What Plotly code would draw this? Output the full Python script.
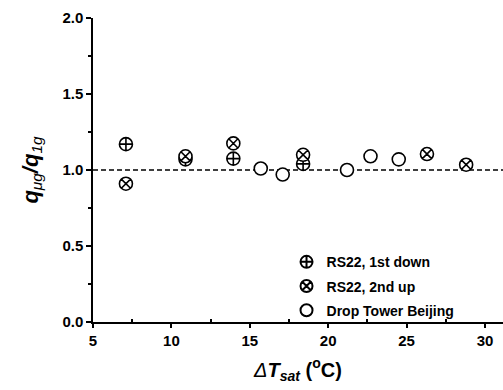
import plotly.graph_objects as go

# Data
x_down = [7.1, 10.9, 13.95, 18.4]
y_down = [1.17, 1.07, 1.075, 1.04]
x_up = [7.1, 10.9, 13.95, 18.4, 26.3, 28.8]
y_up = [0.91, 1.09, 1.175, 1.10, 1.105, 1.035]
x_dt = [15.7, 17.1, 21.2, 22.7, 24.5]
y_dt = [1.01, 0.97, 1.0, 1.09, 1.07]
x_ticks = [5, 10, 15, 20, 25, 30]
y_ticks = [0, 0.5, 1.0, 1.5, 2.0]
y_ticklabels = ["0.0", "0.5", "1.0", "1.5", "2.0"]

FONT = "Liberation Sans"

fig = go.Figure()
mk = dict(size=13, color="white", line=dict(color="black", width=1.6))
fig.add_trace(go.Scatter(x=x_down, y=y_down, mode="markers", name="<b>RS22, 1st down</b>",
                         legendgroup="a", marker=dict(symbol="circle-cross", **mk)))
fig.add_trace(go.Scatter(x=x_up, y=y_up, mode="markers", name="<b>RS22, 2nd up</b>",
                         legendgroup="b", marker=dict(symbol="circle-x", **mk)))
fig.add_trace(go.Scatter(x=x_dt, y=y_dt, mode="markers", name="<b>Drop Tower Beijing</b>",
                         legendgroup="c", marker=dict(symbol="circle", **mk)))

fig.add_shape(type="line", xref="paper", x0=0, x1=1, yref="y", y0=1.0, y1=1.0,
              line=dict(color="black", width=1.6, dash="5px,3px"), layer="below")

fig.update_layout(
    width=503, height=390,
    margin=dict(l=93, r=0, t=18, b=68),
    plot_bgcolor="white", paper_bgcolor="white",
    font=dict(family=FONT, color="black"),
    showlegend=True,
    legend=dict(x=0.472, y=-0.014, xanchor="left", yanchor="bottom",
                bgcolor="rgba(0,0,0,0)",
                font=dict(size=14, family=FONT),
                traceorder="grouped", tracegroupgap=3, itemsizing="constant"),
    xaxis=dict(range=[5, 31.15], tickvals=x_ticks,
               ticktext=["<b>%d</b>" % v for v in x_ticks],
               showgrid=False, zeroline=False, showline=True, linecolor="black", linewidth=1.5,
               ticks="outside", ticklen=4, tickwidth=1.5, tickcolor="black",
               tickfont=dict(size=15, family=FONT),
               minor=dict(tickvals=[7.5, 12.5, 17.5, 22.5, 27.5], ticks="inside", ticklen=3,
                          tickwidth=1.5, tickcolor="black"),
               title=dict(text="<i>Δ</i><b><i>T</i></b><sub><b><i>sat</i></b></sub><b> (<sup>o</sup>C)</b>",
                          font=dict(size=20, family=FONT), standoff=15)),
    yaxis=dict(range=[0, 2.0], tickvals=y_ticks,
               ticktext=["<b>%s</b>" % t for t in y_ticklabels],
               showgrid=False, zeroline=False, showline=True, linecolor="black", linewidth=1.5,
               ticks="outside", ticklen=5, tickwidth=1.5, tickcolor="black",
               tickfont=dict(size=15, family=FONT),
               minor=dict(tickvals=[0.25, 0.75, 1.25, 1.75], ticks="outside", ticklen=3,
                          tickwidth=1.5, tickcolor="black"),
               title=dict(text="<b><i>q</i></b><sub><i>μg</i></sub><b><i>/q</i></b><sub><i>1g</i></sub>",
                          font=dict(size=22, family=FONT), standoff=18)),
)

fig.write_html("out.html")
